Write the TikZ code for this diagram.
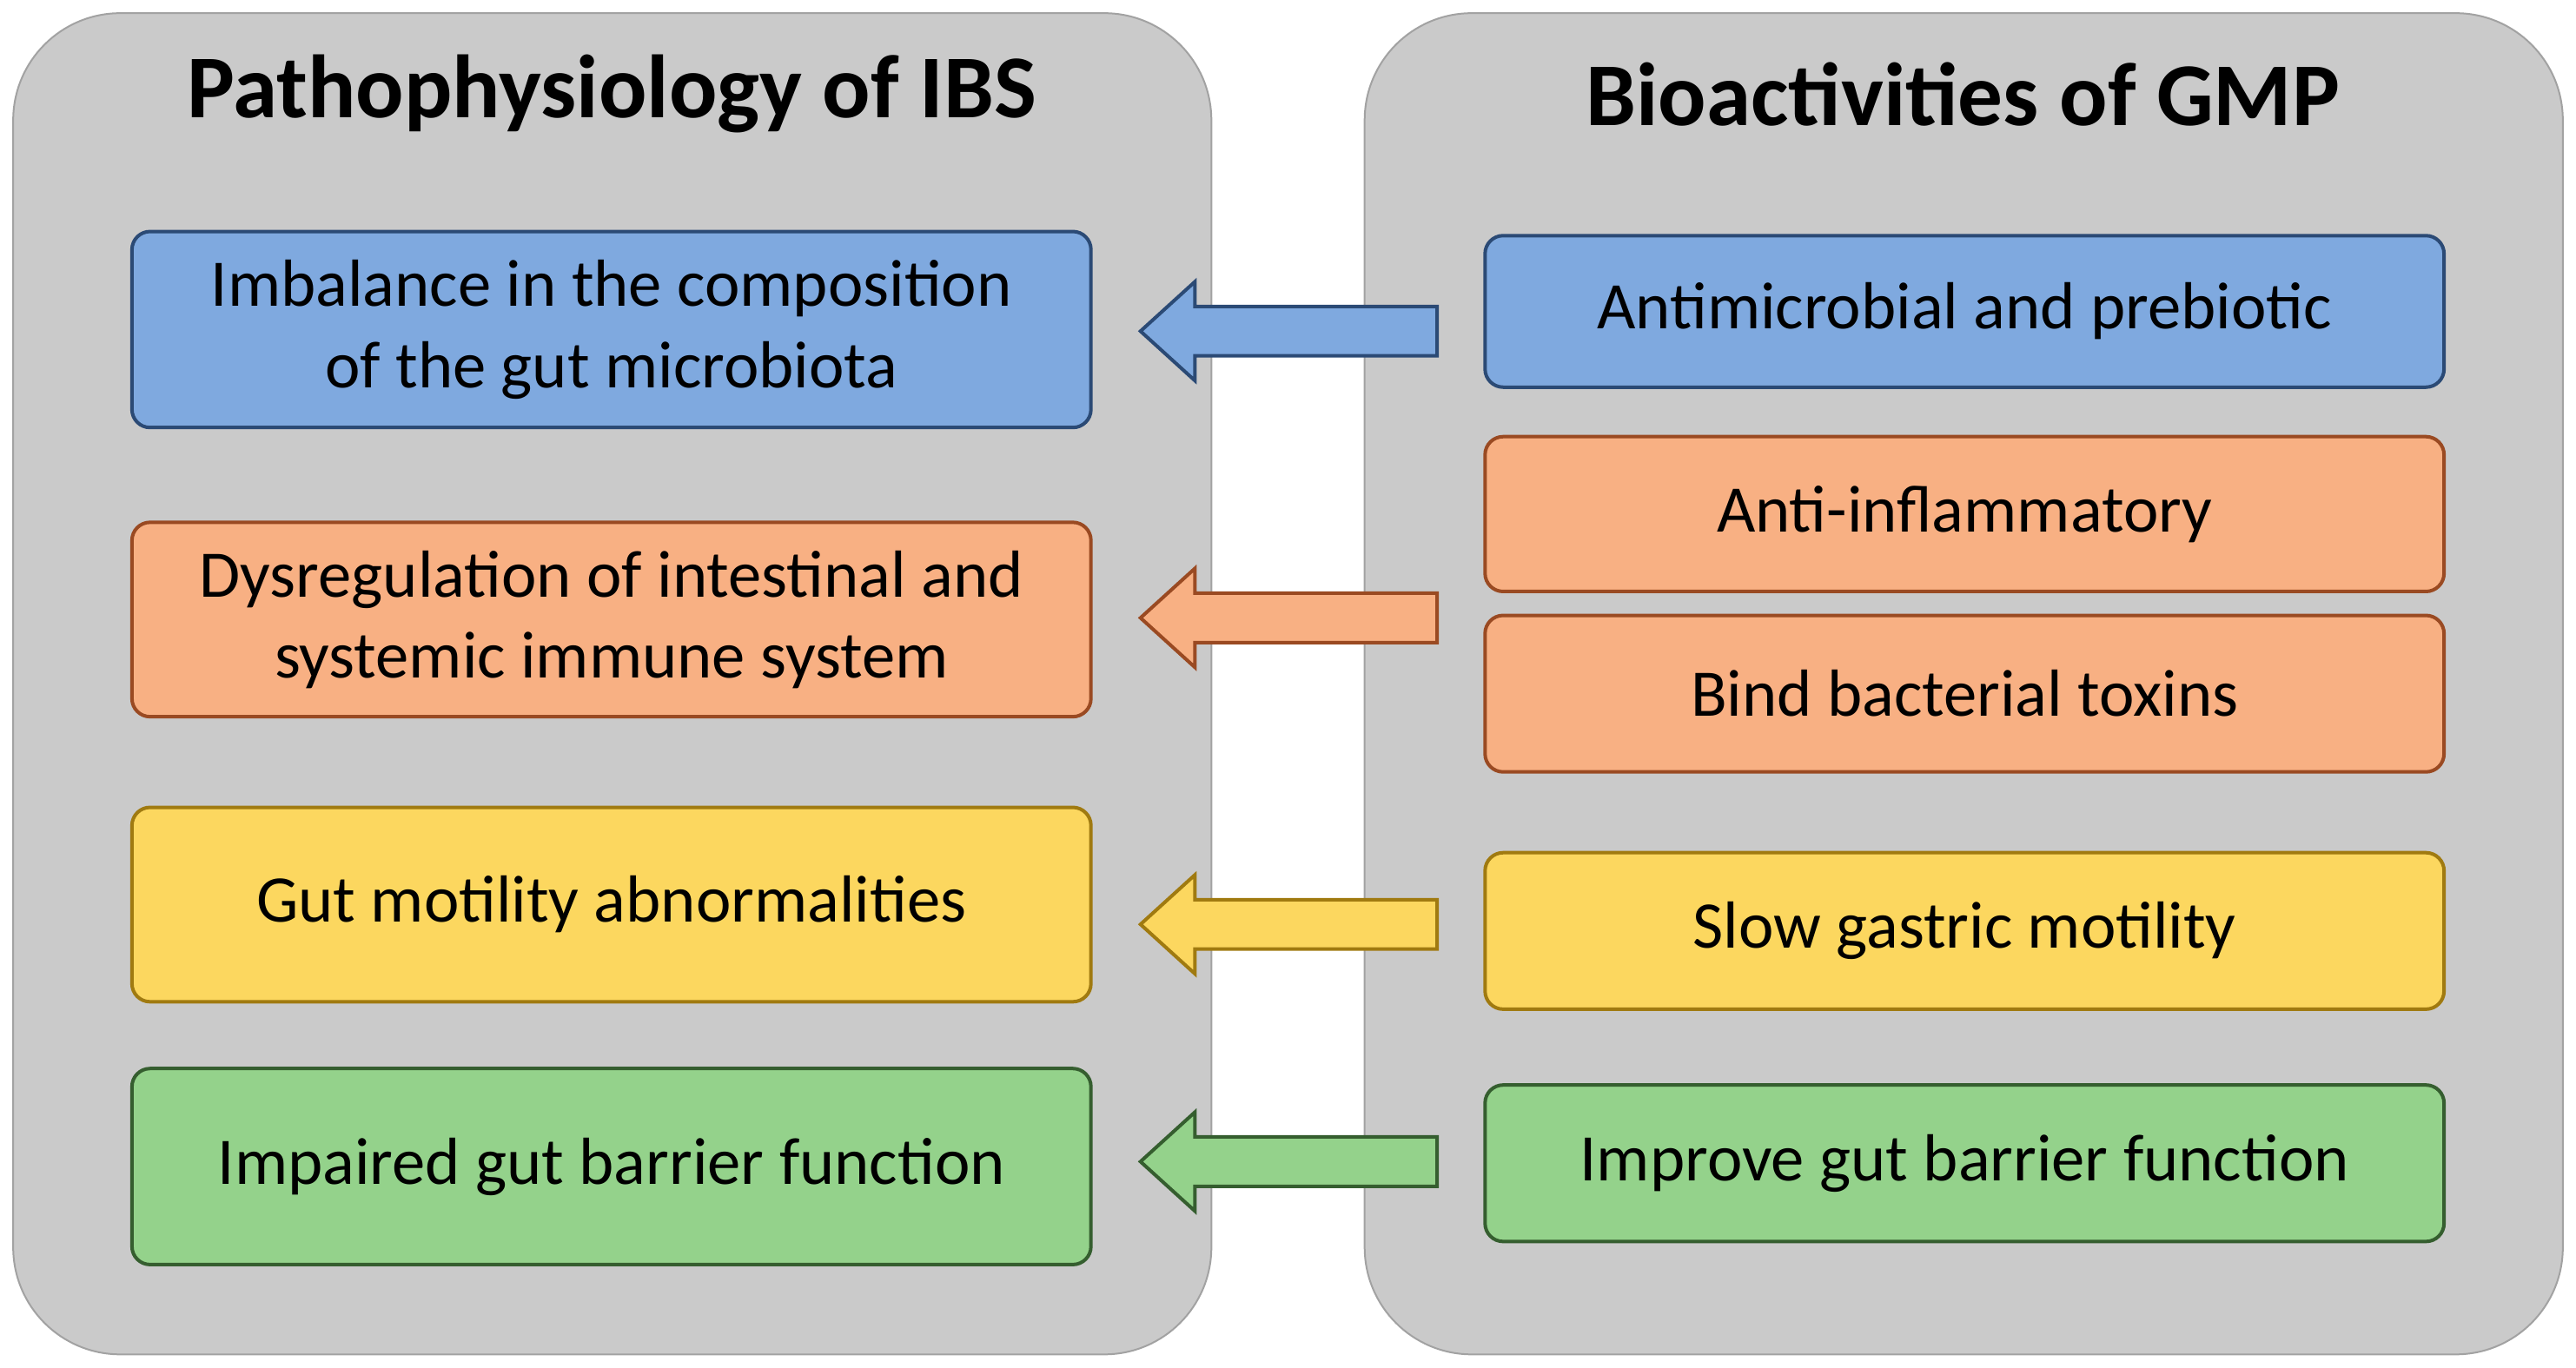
\documentclass[tikz,border=0pt]{standalone}
\usepackage{fontspec}
\setmainfont{Carlito}
\usetikzlibrary{calc}
\definecolor{pan}{HTML}{CACACA}
\definecolor{bluef}{HTML}{7FA9DF}\definecolor{blued}{HTML}{2B4A75}
\definecolor{orf}{HTML}{F8B083}\definecolor{ord}{HTML}{9A4A22}
\definecolor{yef}{HTML}{FCD75F}\definecolor{yed}{HTML}{A07A10}
\definecolor{grf}{HTML}{94D28B}\definecolor{grd}{HTML}{355E2F}
\tikzset{
 panel/.style={fill=pan,draw=pan!80!black,line width=0.6pt,rounded corners=1.3cm},
 box/.style={draw=#1d,fill=#1f,line width=1.2pt,rounded corners=0.22cm,minimum width=11.64cm,align=center,font=\fontsize{23}{28}\selectfont,inner sep=0pt},
 arr/.style={draw=#1d,fill=#1f,line width=1.2pt,line join=miter},
 ttl/.style={font=\fontsize{31}{36}\selectfont\bfseries}
}
\begin{document}
\begin{tikzpicture}[x=0.02cm,y=-0.02cm]
\useasboundingbox (0,0) rectangle (1563,830);
\draw[panel] (8,8) rectangle (735,822);
\draw[panel] (828,8) rectangle (1555,822);
\node[ttl] (tl) at (371,57) {Pathophysiology of IBS};
\node[ttl] (tr) at (1191,57) {Bioactivities of GMP};
% left
\node[box=blue,minimum height=2.38cm] (l1) at (371,200) {Imbalance in the composition\\of the gut microbiota};
\node[box=or,minimum height=2.36cm] (l2) at (371,376) {Dysregulation of intestinal and\\systemic immune system};
\node[box=ye,minimum height=2.36cm] (l3) at (371,549) {Gut motility abnormalities};
\node[box=gr,minimum height=2.38cm] (l4) at (371,708) {Impaired gut barrier function};
% right
\node[box=blue,minimum height=1.84cm] (r1) at (1192,189) {Antimicrobial and prebiotic};
\node[box=or,minimum height=1.88cm] (r2) at (1192,312) {Anti-inflammatory};
\node[box=or,minimum height=1.9cm] (r3) at (1192,421) {Bind bacterial toxins};
\node[box=ye,minimum height=1.9cm] (r4) at (1192,565) {Slow gastric motility};
\node[box=gr,minimum height=1.9cm] (r5) at (1192,706) {Improve gut barrier function};
% arrows
\foreach \c/\y in {blue/201, or/375, ye/561, gr/705}{
 \draw[arr=\c] (872,\y-15) -- (725,\y-15) -- (725,\y-30) -- (692,\y) -- (725,\y+30) -- (725,\y+15) -- (872,\y+15) -- cycle;
}
\end{tikzpicture}
\end{document}
